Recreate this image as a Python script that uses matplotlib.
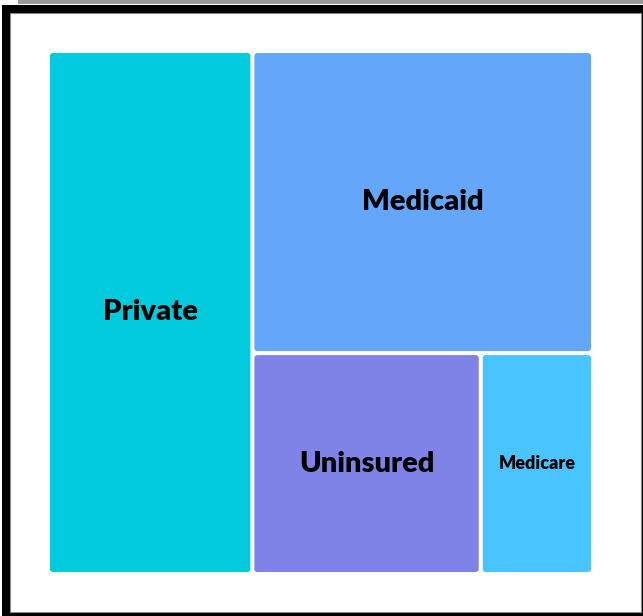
import matplotlib
matplotlib.use("Agg")
import matplotlib.pyplot as plt
from matplotlib.patches import FancyBboxPatch, Rectangle

categories = ["Private", "Medicaid", "Uninsured", "Medicare"]
values = [37.5, 36.1, 17.7, 8.7]
colors = ["#00CADC", "#63A6FA", "#7F82E6", "#4AC4FE"]
font_sizes = [21, 21, 21, 13]

W, H = 643, 616
fig = plt.figure(figsize=(W / 100, H / 100), dpi=100)
ax = fig.add_axes([0, 0, 1, 1])
ax.set_xlim(0, W)
ax.set_ylim(H, 0)
ax.axis("off")

# frame
ax.add_patch(Rectangle((18, 0), W - 18, 4, facecolor="#9a9a9a", edgecolor="none"))
ax.add_patch(Rectangle((2, 5), W - 2, H - 5, facecolor="black", edgecolor="none"))
ax.add_patch(Rectangle((10, 13), 631, 599, facecolor="white", edgecolor="#888888", linewidth=0.8))

# layout domain
x0, y0, x1, y1 = 48, 51, 593, 574
total = sum(values)
dw, dh = x1 - x0, y1 - y0

rects = []
w_priv = dw * values[0] / total
rects.append((x0, y0, w_priv, dh))
rest = total - values[0]
rx, rw = x0 + w_priv, dw - w_priv
h_med = dh * values[1] / rest
rects.append((rx, y0, rw, h_med))
bottom = values[2] + values[3]
by, bh = y0 + h_med, dh - h_med
w_un = rw * values[2] / bottom
rects.append((rx, by, w_un, bh))
rects.append((rx + w_un, by, rw - w_un, bh))

gap = 2
for (x, y, w, h), c, lab, fs in zip(rects, colors, categories, font_sizes):
    ax.add_patch(FancyBboxPatch((x + gap, y + gap), w - 2 * gap, h - 2 * gap,
                                boxstyle="round,pad=0,rounding_size=3",
                                facecolor=c, edgecolor="none"))
    ax.text(x + w / 2, y + h / 2, lab, ha="center", va="center",
            fontsize=fs, fontweight="heavy", family="Lato", color="black")

fig.savefig("out.png", dpi=100)
